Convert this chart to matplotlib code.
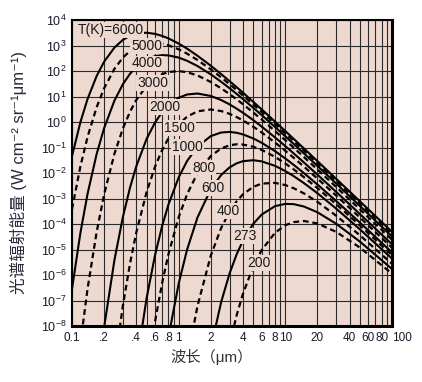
import matplotlib
matplotlib.use("Agg")
import matplotlib.pyplot as plt
from matplotlib.ticker import FixedLocator, NullFormatter

nan = float("nan")

# wavelength grid (um) and spectral radiance (W cm^-2 sr^-1 um^-1)
wavelength_um = [0.1, 0.12, 0.14, 0.17, 0.2, 0.25, 0.3, 0.35, 0.4, 0.5, 0.6, 0.7, 0.8,
                 1, 1.2, 1.5, 2, 2.5, 3, 3.5, 4, 5, 6, 8, 10, 12, 15, 20, 30, 50, 100]

temperatures_k = [6000, 5000, 4000, 3000, 2000, 1500, 1000, 800, 600, 400, 273, 200]

radiance_6000 = [4.59e-2, 1.00, 8.05, 62.8, 231, 832, 1.66e3, 2.40e3, 2.90e3, 3.18e3, 2.86e3,
                 2.38e3, 1.91e3, 1.19e3, 752, 397, 161, 75.9, 40.1, 23.1, 14.2, 6.19, 3.12,
                 1.04, 0.440, 0.216, 9.04e-2, 2.92e-2, 5.89e-3, 7.76e-4, 4.91e-5]
radiance_5000 = [3.79e-4, 1.85e-2, 0.262, 3.74, 21.0, 122, 335, 610, 875, 1.21e3, 1.28e3,
                 1.18e3, 1.02e3, 710, 479, 270, 116, 56.5, 30.5, 17.8, 11.0, 4.90, 2.49,
                 0.839, 0.357, 0.177, 7.41e-2, 2.40e-2, 4.86e-3, 6.43e-4, 4.08e-5]
radiance_4000 = [2.84e-7, 4.59e-5, 1.54e-3, 5.43e-2, 0.575, 6.89, 30.4, 78.0, 145, 286, 383,
                 418, 410, 336, 251, 157, 73.8, 37.9, 21.1, 12.6, 7.98, 3.61, 1.87,
                 0.640, 0.275, 0.137, 5.78e-2, 1.89e-2, 3.85e-3, 5.11e-4, 3.25e-5]
radiance_3000 = [nan, 2.10e-9, 2.94e-7, 4.69e-5, 1.44e-3, 5.69e-2, 0.558, 2.54, 7.23, 26.0,
                 51.8, 75.2, 90.8, 99.3, 89.5, 66.8, 37.2, 21.0, 12.4, 7.73, 5.02, 2.37,
                 1.25, 0.443, 0.194, 9.75e-2, 4.16e-2, 1.37e-2, 2.82e-3, 3.78e-4, 2.43e-5]
radiance_2000 = [nan] * 4 + [8.89e-9, 3.88e-6, 1.89e-4, 2.69e-3, 1.80e-2, 0.215, 0.951, 2.44,
                             4.52, 8.95, 12.0, 13.1, 10.5, 7.28, 4.90, 3.33, 2.31, 1.19, 0.661,
                             0.249, 0.113, 5.82e-2, 2.55e-2, 8.59e-3, 1.81e-3, 2.46e-4, 1.60e-5]
radiance_1500 = [nan] * 5 + [2.65e-10, 6.37e-8, 2.84e-6, 4.49e-5, 1.77e-3, 1.75e-2, 7.93e-2,
                             0.225, 0.813, 1.62, 2.62, 3.10, 2.69, 2.09, 1.56, 1.16, 0.656,
                             0.388, 0.157, 7.40e-2, 3.91e-2, 1.75e-2, 6.05e-3, 1.30e-3,
                             1.80e-4, 1.18e-5]
radiance_1000 = [nan] * 8 + [2.78e-10, 1.21e-7, 5.90e-6, 8.39e-5, 5.61e-4, 6.71e-3, 2.97e-2,
                             0.107, 0.280, 0.387, 0.408, 0.378, 0.327, 0.227, 0.153, 7.21e-2,
                             3.71e-2, 2.07e-2, 9.75e-3, 3.53e-3, 7.96e-4, 1.14e-4, 7.69e-6]
radiance_800 = [nan] * 9 + [9.12e-11, 1.47e-8, 4.92e-7, 6.27e-6, 1.84e-4, 1.48e-3, 9.73e-3,
                            4.62e-2, 9.16e-2, 0.122, 0.134, 0.131, 0.107, 8.04e-2, 4.30e-2,
                            2.36e-2, 1.38e-2, 6.76e-3, 2.55e-3, 5.97e-4, 8.81e-5, 6.04e-6]
radiance_600 = [nan] * 12 + [3.48e-9, 4.59e-7, 1.00e-5, 1.79e-4, 2.31e-3, 8.32e-3, 1.66e-2,
                             2.40e-2, 2.90e-2, 3.18e-2, 2.86e-2, 1.91e-2, 1.19e-2, 7.50e-3,
                             3.97e-3, 1.61e-3, 4.00e-4, 6.19e-5, 4.40e-6]
radiance_400 = [nan] * 14 + [4.59e-10, 6.04e-8, 5.75e-6, 6.89e-5, 3.04e-4, 7.80e-4, 1.45e-3,
                             2.86e-3, 3.83e-3, 4.10e-3, 3.36e-3, 2.51e-3, 1.57e-3, 7.38e-4,
                             2.11e-4, 3.61e-5, 2.75e-6]
radiance_273 = [nan] * 16 + [1.34e-9, 8.53e-8, 1.15e-6, 6.55e-6, 2.20e-5, 1.01e-4, 2.34e-4,
                             5.01e-4, 6.15e-4, 6.00e-4, 4.82e-4, 2.88e-4, 1.02e-4, 2.04e-5,
                             1.72e-6]
radiance_200 = [nan] * 18 + [1.89e-9, 2.69e-8, 1.80e-7, 2.15e-6, 9.51e-6, 4.52e-5, 8.95e-5,
                             1.19e-4, 1.31e-4, 1.05e-4, 4.90e-5, 1.19e-5, 1.13e-6]

curve_labels = ["T(K)=6000", "5000", "4000", "3000", "2000", "1500",
                "1000", "800", "600", "400", "273", "200"]

x_tick_values = [0.1, 0.2, 0.4, 0.6, 0.8, 1, 2, 4, 6, 8, 10, 20, 40, 60, 80, 100]
x_tick_labels = ["0.1", ".2", ".4", ".6", ".8", "1", "2", "4", "6", "8",
                 "10", "20", "40", "60", "80", "100"]
y_exponents = list(range(-8, 5))


def main():
    plt.rcParams['font.family'] = ['Liberation Sans', 'Noto Sans CJK SC', 'DejaVu Sans']
    plt.rcParams['mathtext.default'] = 'regular'

    bg = '#EED9D0'
    radiance = [radiance_6000, radiance_5000, radiance_4000, radiance_3000, radiance_2000,
                radiance_1500, radiance_1000, radiance_800, radiance_600, radiance_400,
                radiance_273, radiance_200]
    # where each temperature tag sits on its curve (data coords)
    label_pos = [(0.23, 4.0e3), (0.50, 9.5e2), (0.51, 2.0e2), (0.57, 34), (0.74, 3.9),
                 (1.02, 0.58), (1.21, 0.105), (1.71, 1.6e-2), (2.08, 2.6e-3),
                 (2.93, 3.2e-4), (4.14, 3.4e-5), (5.6, 3.0e-6)]

    fig = plt.figure(figsize=(4.22, 3.82), dpi=100)
    ax = fig.add_axes([72 / 422, 1 - 326 / 382, 320 / 422, 306 / 382])
    ax.set_facecolor(bg)
    ax.set_xscale('log')
    ax.set_yscale('log')

    for i, (temp, vals) in enumerate(zip(temperatures_k, radiance)):
        if i % 2 == 0:
            ax.plot(wavelength_um, vals, color='black', lw=1.5, zorder=3)
        else:
            ax.plot(wavelength_um, vals, color='black', lw=1.6,
                    linestyle=(0, (2.6, 1.7)), zorder=3)

    for text, (lx, ly) in zip(curve_labels, label_pos):
        ax.text(lx, ly, text, fontsize=10, ha='center', va='center', color='#1a1a1a',
                zorder=5, bbox=dict(facecolor=bg, edgecolor='none', pad=0.5))

    ax.set_xlim(0.1, 100)
    ax.set_ylim(1e-8, 1e4)

    # x: labelled majors plus the unlabelled 1-9 steps of each decade for the grid
    minor_x = [m * 10.0 ** e for e in (-1, 0, 1) for m in range(1, 10)]
    minor_x = [v for v in minor_x if all(abs(v - t) > 1e-9 for t in x_tick_values)]
    ax.xaxis.set_major_locator(FixedLocator(x_tick_values))
    ax.set_xticklabels(x_tick_labels)
    ax.xaxis.set_minor_locator(FixedLocator(minor_x))
    ax.xaxis.set_minor_formatter(NullFormatter())
    # the last labels are crowded, nudge "100" off the 80 label like the original
    ax.get_xticklabels()[-1].set_horizontalalignment('left')

    ax.yaxis.set_major_locator(FixedLocator([10.0 ** k for k in y_exponents]))
    ax.set_yticklabels([f'$10^{{{k}}}$' for k in y_exponents])
    ax.yaxis.set_minor_locator(FixedLocator([]))

    ax.grid(True, which='both', axis='x', color='#2a2a2a', lw=0.8, zorder=1)
    ax.grid(True, which='major', axis='y', color='#2a2a2a', lw=0.8, zorder=1)
    ax.set_axisbelow(True)
    ax.tick_params(which='both', length=0, colors='#1a1a2a', pad=4)
    ax.tick_params(axis='y', labelsize=9)
    ax.tick_params(axis='x', labelsize=8.5)

    for side in ['top', 'left']:
        ax.spines[side].set_linewidth(1.5)
    for side in ['bottom', 'right']:
        ax.spines[side].set_linewidth(2.2)

    ax.set_ylabel('光谱辐射能量 (W cm⁻² sr⁻¹μm⁻¹)', fontsize=12, color='#2a2a3a')
    ax.yaxis.set_label_coords(-0.14, 0.5)
    ax.set_xlabel('波长（μm）', fontsize=11, color='#333333', va='center')
    ax.xaxis.set_label_coords(0.4375, -0.101)

    fig.savefig('out.png', dpi=100, facecolor='white')


if __name__ == "__main__":
    main()
